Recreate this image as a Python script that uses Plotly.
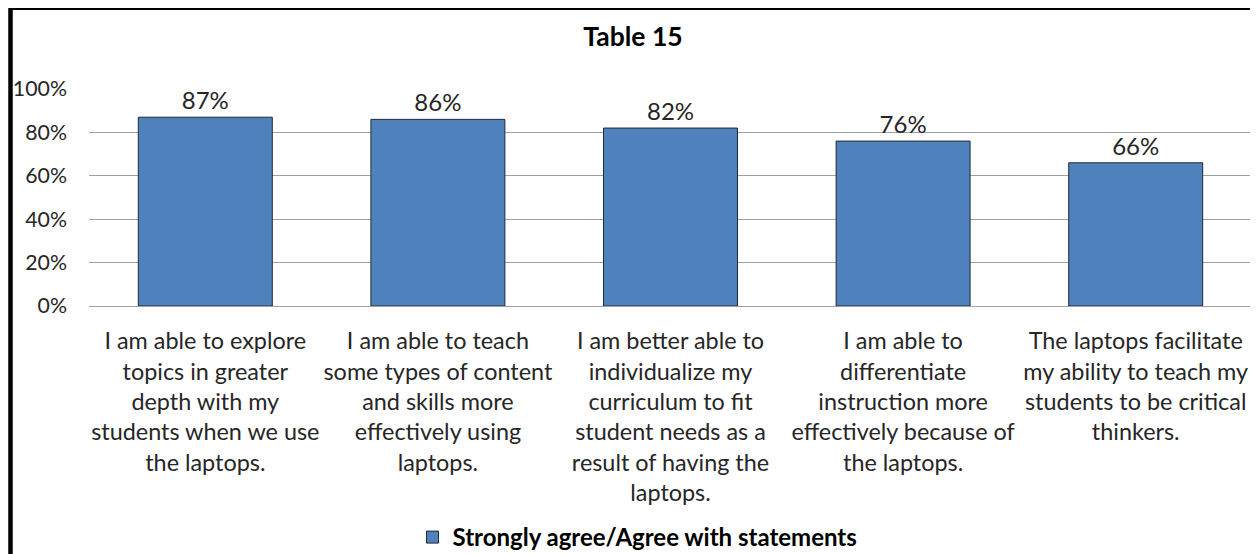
import plotly.graph_objects as go

categories = [
    "I am able to explore<br>topics in greater<br>depth with my<br>students when we use<br>the laptops.",
    "I am able to teach<br>some types of content<br>and skills more<br>effectively using<br>laptops.",
    "I am better able to<br>individualize my<br>curriculum to fit<br>student needs as a<br>result of having the<br>laptops.",
    "I am able to<br>differentiate<br>instruction more<br>effectively because of<br>the laptops.",
    "The laptops facilitate<br>my ability to teach my<br>students to be critical<br>thinkers.",
]
values = [87, 86, 82, 76, 66]
series_name = "Strongly agree/Agree with statements"
y_ticks = [0, 20, 40, 60, 80, 100]

FONT = "Lato"
W, H = 1250, 546
L, R, T, B = 81, 6, 81.3, 247.5
pw, ph = W - L - R, H - T - B

def px_x(x):
    return (x - L) / pw

def px_y(y):
    return (H - B - y) / ph

fig = go.Figure()
fig.add_trace(go.Bar(
    x=categories, y=values, name="<b>" + series_name + "</b>",
    marker=dict(color="#4F81BD", line=dict(color="#1F2A36", width=1)),
    text=[f"{v}%" for v in values], textposition="outside",
    textfont=dict(family=FONT, size=24, color="#262626"),
    cliponaxis=False, showlegend=True,
))

fig.update_layout(
    width=W, height=H,
    margin=dict(l=L, r=R, t=T, b=B),
    paper_bgcolor="white", plot_bgcolor="white",
    bargap=0.424,
    font=dict(family=FONT, color="#262626"),
    title=dict(text="<b>Table 15</b>", x=0.5, xref="container", xanchor="center",
               y=1 - 28.5 / H, yref="container", yanchor="middle",
               font=dict(family=FONT, size=26.5, color="#000000")),
    showlegend=True,
    legend=dict(orientation="h", xref="container", x=629.5 / W, xanchor="center",
                yref="container", y=1 - 529.5 / H, yanchor="middle",
                font=dict(family=FONT, size=24, color="#000000"), bgcolor="rgba(0,0,0,0)"),
    xaxis=dict(showgrid=False, showline=True, linecolor="#A0A0A0", linewidth=1,
               tickfont=dict(family=FONT, size=23.4, color="#262626"), ticks="",
               ticklabelstandoff=14),
    yaxis=dict(range=[0, 100], tickvals=y_ticks, ticktext=[f"{v}%" for v in y_ticks],
               showgrid=True, gridcolor="#A0A0A0", gridwidth=1, zeroline=False,
               showline=False, tickfont=dict(family=FONT, size=21.3, color="#262626"),
               ticklabelstandoff=21),
)

fig.add_shape(type="rect", xref="paper", yref="paper",
              x0=px_x(2.5), x1=px_x(1247), y0=px_y(600), y1=px_y(0),
              line=dict(color="black", width=4.5), fillcolor="rgba(0,0,0,0)", layer="above")

fig.write_html("out.html")
